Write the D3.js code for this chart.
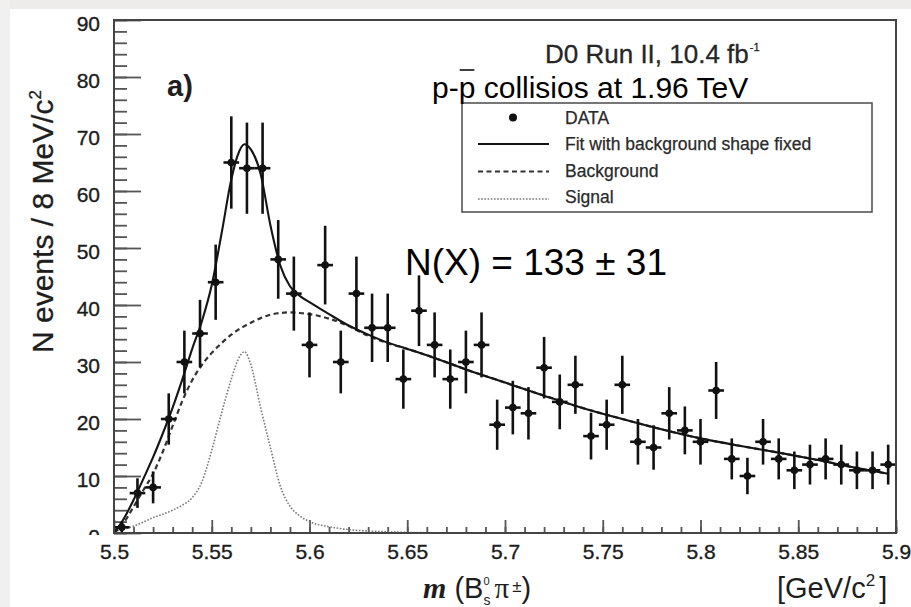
<!DOCTYPE html>
<html>
<head>
<meta charset="utf-8">
<script src="https://cdn.jsdelivr.net/npm/d3@7"></script>
<style>
  body { margin: 0; background: #fff; }
  svg { display: block; font-family: "Liberation Sans", Arial, Helvetica, sans-serif; }
</style>
</head>
<body>
<svg id="massPlot" width="911" height="607"></svg>
<script>
// Bin centres (8 MeV bins) and counts
const binMass = [5.504, 5.512, 5.520, 5.528, 5.536, 5.544, 5.552, 5.560, 5.568, 5.576,
                 5.584, 5.592, 5.600, 5.608, 5.616, 5.624, 5.632, 5.640, 5.648, 5.656,
                 5.664, 5.672, 5.680, 5.688, 5.696, 5.704, 5.712, 5.720, 5.728, 5.736,
                 5.744, 5.752, 5.760, 5.768, 5.776, 5.784, 5.792, 5.800, 5.808, 5.816,
                 5.824, 5.832, 5.840, 5.848, 5.856, 5.864, 5.872, 5.880, 5.888, 5.896];
const binCounts = [1, 7, 8, 20, 30, 35, 44, 65, 64, 64,
                   48, 42, 33, 47, 30, 42, 36, 36, 27, 39,
                   33, 27, 30, 33, 19, 22, 21, 29, 23, 26,
                   17, 19, 26, 16, 15, 21, 18, 16, 25, 13,
                   10, 16, 13, 11, 12, 13, 12, 11, 11, 12];
const binErrors = [1, 2.6, 2.8, 4.5, 5.5, 5.9, 6.6, 8.1, 8, 8,
                   6.9, 6.5, 5.7, 6.9, 5.5, 6.5, 6, 6, 5.2, 6.2,
                   5.7, 5.2, 5.5, 5.7, 4.4, 4.7, 4.6, 5.4, 4.8, 5.1,
                   4.1, 4.4, 5.1, 4, 3.9, 4.6, 4.2, 4, 5, 3.6,
                   3.2, 4, 3.6, 3.3, 3.5, 3.6, 3.5, 3.3, 3.3, 3.5];
const binHalfWidth = 0.004;

// Fit curves sampled from the figure
const curveMass = [5.500, 5.505, 5.510, 5.515, 5.520, 5.525, 5.530, 5.535, 5.540, 5.545,
                   5.550, 5.555, 5.560, 5.5633, 5.5667, 5.570, 5.575, 5.580, 5.585, 5.590,
                   5.595, 5.600, 5.610, 5.620, 5.630, 5.640, 5.650, 5.660, 5.680, 5.700,
                   5.720, 5.740, 5.760, 5.780, 5.800, 5.820, 5.840, 5.860, 5.880, 5.896];
const fitValues = [0, 2.5, 5.8, 9.5, 13.3, 17.5, 22, 27, 32.3, 37.2,
                   43.5, 52.5, 62, 66.3, 68.2, 67.3, 63, 54, 47, 43.3,
                   41.6, 40.5, 38.4, 36.4, 34.8, 33.4, 32.3, 31.2, 28.7, 26.4,
                   24.1, 21.9, 20.0, 18.2, 16.6, 15.3, 14.1, 12.8, 11.4, 10.4];
const backgroundValues = [0, 1.8, 4.6, 7.5, 10.4, 14.3, 18.8, 23.2, 26.8, 29.5,
                          31.6, 33.3, 34.8, 35.6, 36.3, 36.9, 37.7, 38.3, 38.6, 38.7,
                          38.6, 38.4, 37.6, 36.3, 34.6, 33.3, 32.3, 31.2, 28.7, 26.4,
                          24.1, 21.9, 20.0, 18.2, 16.6, 15.3, 14.1, 12.8, 11.4, 10.4];
const signalValues = [0.3, 0.7, 1.2, 1.9, 2.7, 3.3, 4.0, 4.9, 6.2, 9.0,
                      14.5, 21, 27, 30.3, 31.8, 29.5, 22, 15, 8.3, 4.7,
                      3.0, 2.0, 1.1, 0.6, 0.35, 0.2, 0.1, 0.05, 0, 0,
                      0, 0, 0, 0, 0, 0, 0, 0, 0, 0];

const xTicks = [5.5, 5.55, 5.6, 5.65, 5.7, 5.75, 5.8, 5.85, 5.9];
const yTicks = [0, 10, 20, 30, 40, 50, 60, 70, 80, 90];
const legendLabels = ["DATA", "Fit with background shape fixed", "Background", "Signal"];

function drawMassPlot() {
  const svg = d3.select("svg#massPlot");
  const frame = {left: 114, top: 20, right: 896, bottom: 533};

  const x = d3.scaleLinear().domain([5.5, 5.9]).range([frame.left, frame.right]);
  const y = d3.scaleLinear().domain([0, 90]).range([frame.bottom, frame.top]);

  // scan edges of the slide around the figure
  svg.append("rect").attr("x", 0).attr("y", 0).attr("width", 911).attr("height", 9).attr("fill", "#eeecea");
  svg.append("rect").attr("x", 0).attr("y", 0).attr("width", 10).attr("height", 607).attr("fill", "#f0f0f0");

  svg.append("defs").append("clipPath").attr("id", "frameClip")
    .append("rect")
    .attr("x", frame.left).attr("y", frame.top)
    .attr("width", frame.right - frame.left).attr("height", frame.bottom - frame.top);

  // minor + major ticks, drawn inside the frame like ROOT does
  const xMinor = svg.append("g").attr("transform", `translate(0,${frame.bottom})`)
    .call(d3.axisBottom(x).ticks(40).tickSize(-6).tickFormat(""));
  const xMajor = svg.append("g").attr("transform", `translate(0,${frame.bottom})`)
    .call(d3.axisBottom(x).tickValues(xTicks).tickSize(-13).tickPadding(11).tickFormat(d3.format("")));
  const yMinor = svg.append("g").attr("transform", `translate(${frame.left},0)`)
    .call(d3.axisLeft(y).ticks(45).tickSize(-13).tickFormat(""));
  const yMajor = svg.append("g").attr("transform", `translate(${frame.left},0)`)
    .attr("clip-path", "url(#yLabelClip)")
    .call(d3.axisLeft(y).tickValues(yTicks).tickSize(-27).tickPadding(14));

  // the "0" label is half hidden in the original
  yMajor.append("clipPath").attr("id", "yLabelClip")
    .append("rect").attr("x", -114).attr("y", 0).attr("width", 900).attr("height", 535);

  [xMinor, xMajor, yMinor, yMajor].forEach(g => {
    g.select(".domain").remove();
    g.selectAll(".tick line").attr("stroke", "#555").attr("stroke-width", 1.8);
    g.selectAll(".tick text")
      .attr("fill", "#1c1c1c")
      .attr("stroke", "#1c1c1c").attr("stroke-width", 0.35)
      .style("font-size", "21px")
      .style("font-family", "'Liberation Sans', Arial, sans-serif");
  });
  yMajor.selectAll(".tick text").attr("dy", "0.48em");

  // curves
  const line = d3.line()
    .x(d => x(d[0]))
    .y(d => y(d[1]))
    .curve(d3.curveMonotoneX);

  const curves = svg.append("g").attr("clip-path", "url(#frameClip)");
  curves.append("path")
    .attr("d", line(d3.zip(curveMass, signalValues)))
    .attr("fill", "none").attr("stroke", "#7a7a7a")
    .attr("stroke-width", 1.6).attr("stroke-dasharray", "1.6,1.6");
  curves.append("path")
    .attr("d", line(d3.zip(curveMass, backgroundValues)))
    .attr("fill", "none").attr("stroke", "#333")
    .attr("stroke-width", 2.2).attr("stroke-dasharray", "5,3.5");
  curves.append("path")
    .attr("d", line(d3.zip(curveMass, fitValues)))
    .attr("fill", "none").attr("stroke", "#151515")
    .attr("stroke-width", 2.1);

  // data points with error bars
  const points = svg.append("g").selectAll("g.point")
    .data(binMass.map((m, i) => ({m: m, n: binCounts[i], e: binErrors[i]})))
    .join("g").attr("class", "point");
  points.append("line")
    .attr("x1", d => x(d.m)).attr("x2", d => x(d.m))
    .attr("y1", d => y(Math.max(0, d.n - d.e))).attr("y2", d => y(d.n + d.e))
    .attr("stroke", "#111").attr("stroke-width", 2.6);
  points.append("line")
    .attr("x1", d => x(d.m - binHalfWidth)).attr("x2", d => x(d.m + binHalfWidth))
    .attr("y1", d => y(d.n)).attr("y2", d => y(d.n))
    .attr("stroke", "#111").attr("stroke-width", 2.6);
  points.append("circle")
    .attr("cx", d => x(d.m)).attr("cy", d => y(d.n)).attr("r", 3.8)
    .attr("fill", "#111");

  // frame
  svg.append("rect")
    .attr("x", frame.left).attr("y", frame.top)
    .attr("width", frame.right - frame.left).attr("height", frame.bottom - frame.top)
    .attr("fill", "none").attr("stroke", "#444").attr("stroke-width", 2);

  // legend box
  const legend = svg.append("g");
  legend.append("rect")
    .attr("x", 462).attr("y", 103).attr("width", 410).attr("height", 109)
    .attr("fill", "#fff").attr("stroke", "#555").attr("stroke-width", 1.6);
  legend.selectAll("text.entry")
    .data(legendLabels)
    .join("text").attr("class", "entry")
    .attr("x", 565)
    .attr("y", (d, i) => 124 + i * 26.4)
    .attr("fill", "#2a2a2a")
    .attr("stroke", "#2a2a2a").attr("stroke-width", 0.25)
    .style("font-size", "17.5px")
    .text(d => d);
  legend.append("circle").attr("cx", 513).attr("cy", 117.5).attr("r", 4).attr("fill", "#111");
  legend.append("line").attr("x1", 478).attr("x2", 549).attr("y1", 144).attr("y2", 144)
    .attr("stroke", "#151515").attr("stroke-width", 2.1);
  legend.append("line").attr("x1", 478).attr("x2", 549).attr("y1", 171.5).attr("y2", 171.5)
    .attr("stroke", "#333").attr("stroke-width", 2.2).attr("stroke-dasharray", "5,3.5");
  legend.append("line").attr("x1", 478).attr("x2", 549).attr("y1", 199).attr("y2", 199)
    .attr("stroke", "#7a7a7a").attr("stroke-width", 1.6).attr("stroke-dasharray", "1.6,1.6");

  // panel label and experiment text
  svg.append("text").attr("x", 167).attr("y", 96)
    .attr("fill", "#1e1e1e").style("font-size", "29px").style("font-weight", "bold")
    .text("a)");

  const runText = svg.append("text").attr("x", 545).attr("y", 63)
    .attr("fill", "#262626").attr("stroke", "#262626").attr("stroke-width", 0.3)
    .style("font-size", "26px");
  runText.append("tspan").text("D0 Run II, 10.4 fb");
  runText.append("tspan").attr("dx", 1).attr("dy", -12).style("font-size", "11px").text("-1");

  const collText = svg.append("text").attr("x", 432).attr("y", 98)
    .attr("fill", "#000").style("font-size", "30px")
    .text("p-p collisios at 1.96 TeV");
  // overline on the anti-proton
  const pBar = collText.node().getExtentOfChar(2);
  svg.append("line")
    .attr("x1", pBar.x + 1).attr("x2", pBar.x + pBar.width - 1)
    .attr("y1", 70).attr("y2", 70)
    .attr("stroke", "#000").attr("stroke-width", 1.5);

  svg.append("text").attr("x", 405).attr("y", 275)
    .attr("fill", "#000").style("font-size", "37px")
    .text("N(X) = 133 ± 31");

  // axis titles
  const yTitle = svg.append("text")
    .attr("transform", "translate(53,353) rotate(-90)")
    .attr("fill", "#1e1e1e").attr("stroke", "#1e1e1e").attr("stroke-width", 0.3)
    .style("font-size", "30px");
  yTitle.append("tspan").text("N events / 8 MeV/c");
  yTitle.append("tspan").attr("dy", -12).style("font-size", "17px").text("2");

  const xTitle = svg.append("text").attr("x", 423).attr("y", 598)
    .attr("fill", "#1e1e1e").style("font-size", "29px");
  xTitle.append("tspan")
    .style("font-family", "'Liberation Serif', 'Times New Roman', serif")
    .style("font-style", "italic").style("font-weight", "bold").style("font-size", "30px")
    .text("m");
  xTitle.append("tspan").text(" (B");
  xTitle.append("tspan").attr("dy", -13).style("font-size", "11px").text("0");
  xTitle.append("tspan").attr("dx", -6).attr("dy", 20).style("font-size", "14px").text("s");
  xTitle.append("tspan").attr("dx", 4).attr("dy", -7)
    .style("font-family", "'Liberation Serif', serif").style("font-size", "29px").text("π");
  xTitle.append("tspan").attr("dx", 3).attr("dy", -6).style("font-size", "17px").text("±");
  xTitle.append("tspan").attr("dy", 6).text(")");

  const unitTitle = svg.append("text").attr("x", 777).attr("y", 598)
    .attr("fill", "#1e1e1e").style("font-size", "29px");
  unitTitle.append("tspan").text("[GeV/c");
  unitTitle.append("tspan").attr("dy", -12).style("font-size", "17px").text("2");
  unitTitle.append("tspan").attr("dx", 4).attr("dy", 12).text("]");
}

drawMassPlot();
</script>
</body>
</html>
